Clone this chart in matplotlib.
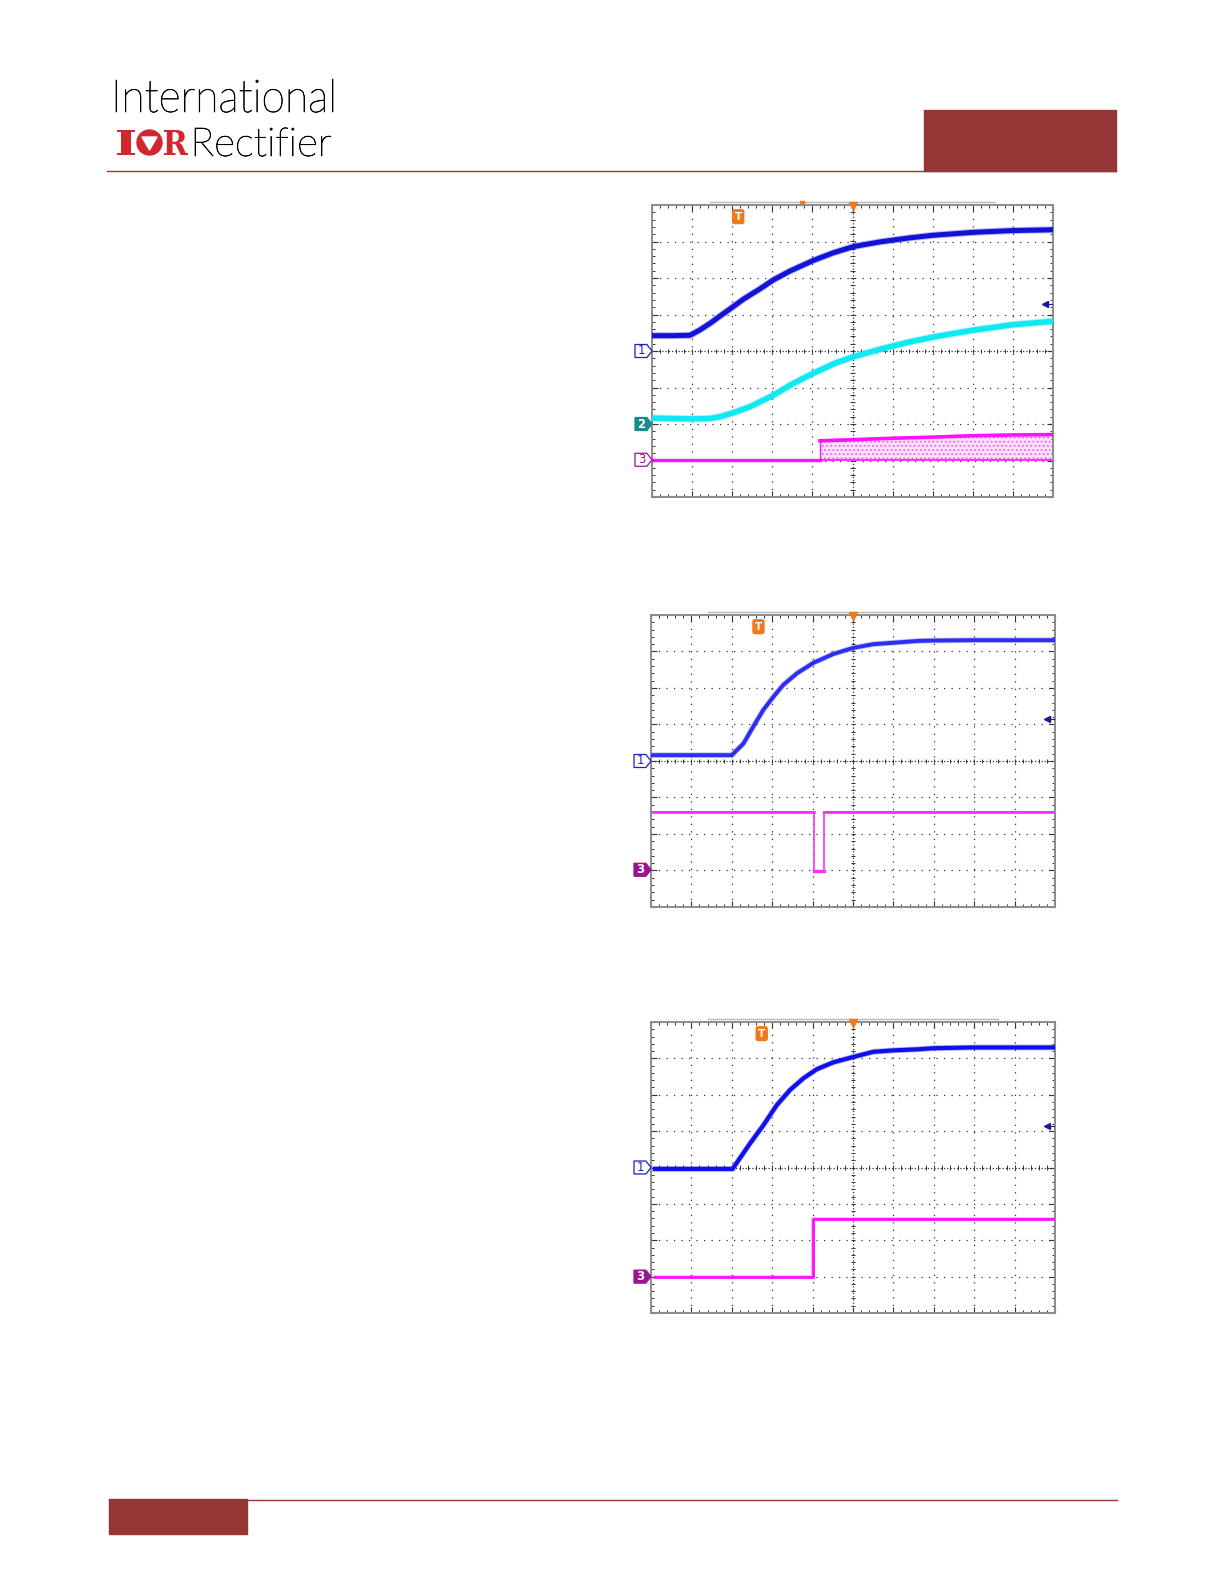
import matplotlib
matplotlib.use("Agg")
import matplotlib.pyplot as plt
import numpy as np
from matplotlib.patches import Rectangle, Circle, Polygon, PathPatch
from matplotlib.textpath import TextPath
from matplotlib.font_manager import FontProperties
from matplotlib.transforms import Affine2D

W, H = 1224, 1584
BRAND = '#943634'
LOGO_RED = '#d4262e'
ORANGE = '#f07a1a'

# ---- panel 1: ch1 (blue), ch2 (cyan), ch3 (magenta switching band)
p1_t_ch1 = [0.0, 0.5, 0.95, 1.2, 1.45, 1.7, 2.03, 2.28, 2.69, 3.03, 3.44, 4.02, 4.52,
            5.02, 5.69, 6.43, 7.0, 8.0, 9.0, 9.96]
p1_ch1 = [4.42, 4.42, 4.43, 4.58, 4.76, 4.96, 5.22, 5.42, 5.70, 5.95, 6.19, 6.48, 6.69,
          6.86, 6.99, 7.10, 7.17, 7.25, 7.30, 7.32]
p1_t_ch2 = [0.0, 0.5, 1.0, 1.45, 1.7, 2.03, 2.44, 3.03, 3.52, 4.02, 4.6, 5.02, 5.69,
            6.43, 7.0, 8.0, 9.0, 9.96]
p1_ch2 = [2.16, 2.15, 2.14, 2.15, 2.20, 2.31, 2.47, 2.79, 3.11, 3.39, 3.68, 3.84, 4.05,
          4.25, 4.38, 4.57, 4.72, 4.81]
p1_t_ch3 = [0.0, 4.19]
p1_ch3 = [1.02, 1.02]
p1_t_band = [4.19, 5.0, 6.0, 7.0, 8.0, 9.0, 9.96]
p1_band_low = [1.02, 1.02, 1.02, 1.02, 1.02, 1.02, 1.02]
p1_band_high = [1.54, 1.57, 1.61, 1.64, 1.68, 1.70, 1.71]

# ---- panel 2: ch1 rise, ch3 short low pulse
p2_t_ch1 = [0.0, 1.0, 2.0, 2.29, 2.53, 2.78, 3.03, 3.27, 3.61, 4.02, 4.51, 5.01, 5.5,
            6.0, 6.62, 7.0, 8.0, 9.96]
p2_ch1 = [4.16, 4.16, 4.16, 4.48, 4.94, 5.40, 5.76, 6.08, 6.40, 6.69, 6.93, 7.10, 7.20,
          7.24, 7.29, 7.30, 7.31, 7.31]
p2_t_ch3 = [0.0, 4.04, 4.04, 4.27, 4.27, 9.96]
p2_ch3 = [2.60, 2.60, 0.98, 0.98, 2.60, 2.60]

# ---- panel 3: ch1 rise, ch3 step up
p3_t_ch1 = [0.1, 1.0, 2.02, 2.08, 2.45, 2.78, 3.11, 3.44, 3.77, 4.10, 4.51, 5.01, 5.5,
            6.0, 6.62, 7.0, 8.0, 9.96]
p3_ch1 = [3.96, 3.96, 3.96, 4.06, 4.66, 5.16, 5.71, 6.13, 6.45, 6.70, 6.89, 7.04, 7.18,
          7.22, 7.25, 7.28, 7.30, 7.30]
p3_t_ch3 = [0.1, 4.0, 4.0, 9.96]
p3_ch3 = [0.98, 0.98, 2.59, 2.59]

# marker positions (divisions)
trig_x = [2.15, 2.66, 2.74]
ref_arrow_y = [5.29, 5.15, 5.14]

fig = plt.figure(figsize=(W / 100, H / 100), dpi=100)
page = fig.add_axes([0, 0, 1, 1], zorder=0)
page.set_xlim(0, W)
page.set_ylim(H, 0)
page.axis('off')


def fit_text(ax, s, x0, x1, baseline, cap, prop, color, stroke=0.0):
    path = TextPath((0, 0), s, size=100, prop=prop)
    ref = TextPath((0, 0), 'I', size=100, prop=prop).get_extents()
    bb = path.get_extents()
    sx = (x1 - x0) / bb.width
    sy = cap / ref.height
    tr = Affine2D().translate(-bb.x0, 0).scale(sx, -sy).translate(x0, baseline)
    ax.add_patch(PathPatch(tr.transform_path(path), facecolor=color,
                           edgecolor=color if stroke else 'none', lw=stroke))


# header
thin = FontProperties(family='Lato', weight='light')
fit_text(page, 'International', 116, 333, 112, 32, thin, '#000000', stroke=0.5)
fit_text(page, 'Rectifier', 195, 331, 156, 28, thin, '#000000', stroke=0.5)
logo = FontProperties(family='DejaVu Serif', weight='bold')
fit_text(page, 'I', 117, 135, 155, 25, logo, LOGO_RED)
fit_text(page, 'R', 164, 188, 155, 25, logo, LOGO_RED)
page.add_patch(Circle((149.5, 142.5), 12.5, color=LOGO_RED))
page.add_patch(Polygon([(142, 137), (157, 137), (149.5, 150)], color='white'))
page.plot([107, 1116], [170.5, 170.5], color=BRAND, lw=1.0)
page.add_patch(Rectangle((924, 110), 192, 61, color=BRAND))

# footer
page.plot([109, 1117], [1499.5, 1499.5], color=BRAND, lw=1.0)
page.add_patch(Rectangle((109, 1499), 138, 35, color=BRAND))


def scope_axes(box_px):
    x0, y0, x1, y1 = box_px
    ax = fig.add_axes([x0 / W, 1 - y1 / H, (x1 - x0) / W, (y1 - y0) / H], zorder=2)
    ax.set_xlim(0, 10)
    ax.set_ylim(0, 8)
    ax.set_facecolor('white')
    for sp in ax.spines.values():
        sp.set_color('#8c8c8c')
        sp.set_linewidth(1.4)
    ax.set_xticks(np.arange(0, 10.01, 1))
    ax.set_yticks(np.arange(0, 8.01, 1))
    ax.set_xticks(np.arange(0, 10.01, 0.2), minor=True)
    ax.set_yticks(np.arange(0, 8.01, 0.2), minor=True)
    ax.tick_params(which='both', direction='in', top=True, right=True,
                   labelbottom=False, labelleft=False, color='#333333')
    ax.tick_params(which='major', length=4, width=0.8)
    ax.tick_params(which='minor', length=2.5, width=0.7)
    # dotted graticule
    for gx in range(1, 10):
        ls = (0, (1, 5)) if gx != 5 else (0, (1, 1.6))
        ax.plot([gx, gx], [0, 8], color='#333333', lw=0.9, ls=ls, zorder=1)
    for gy in range(1, 8):
        ls = (0, (1, 5)) if gy != 4 else (0, (1, 1.6))
        ax.plot([0, 10], [gy, gy], color='#333333', lw=0.9, ls=ls, zorder=1)
    tx = np.arange(0.2, 10, 0.2)
    ty = np.arange(0.2, 8, 0.2)
    ax.vlines(tx, 3.94, 4.06, color='#333333', lw=0.7, zorder=1)
    ax.hlines(ty, 4.95, 5.05, color='#333333', lw=0.7, zorder=1)
    return ax


def trace(ax, x, y, color, lw, halo):
    # faint wider halo stands in for the scope's noise envelope
    ax.plot(x, y, color=color, lw=lw + halo, alpha=0.3, solid_joinstyle='round', zorder=3)
    ax.plot(x, y, color=color, lw=lw, solid_joinstyle='round', zorder=3)


def ch_marker(ax, y, label, color, filled, wpx, hpx):
    xw = 17 * 10 / wpx
    yh = 6.5 * 8 / hpx
    pts = [(-xw, y - yh), (-xw * 0.3, y - yh), (0, y), (-xw * 0.3, y + yh), (-xw, y + yh)]
    poly = Polygon(pts, closed=True, clip_on=False, lw=0.9,
                   facecolor=color if filled else 'white', edgecolor=color, zorder=5)
    ax.add_patch(poly)
    ax.text(-xw * 0.62, y, label, ha='center', va='center', fontsize=8.5,
            color='white' if filled else color, fontweight='bold' if filled else 'normal',
            clip_on=False, zorder=6)


def decorations(ax, tx, ay, gray_top):
    ax.text(tx, 7.68, 'T', ha='center', va='center', fontsize=7.5, color='white',
            fontweight='bold', zorder=6,
            bbox=dict(boxstyle='round,pad=0.18', fc=ORANGE, ec=ORANGE))
    ax.plot(5, 7.96, marker='v', color=ORANGE, ms=5.5, clip_on=False, zorder=6)
    ax.plot([9.8, 9.97], [ay, ay], color='#1a1a9a', lw=0.8, zorder=6)
    ax.plot(9.8, ay, marker='<', color='#1a1a9a', ms=4, zorder=6)
    ax.plot(gray_top, [8.07, 8.07], color='#b8b8b8', lw=1.0, clip_on=False)


# panel 1
box1 = (652, 205, 1053, 497)
ax1 = scope_axes(box1)
trace(ax1, p1_t_ch1, p1_ch1, '#1212d8', 3.6, 1.4)
trace(ax1, p1_t_ch2, p1_ch2, '#10e8f2', 4.0, 1.4)
plt.rcParams['hatch.linewidth'] = 0.8
ax1.fill_between(p1_t_band, p1_band_low, p1_band_high, facecolor='#fde0fa',
                 edgecolor='#f060f0', hatch='....', linewidth=0, zorder=2)
ax1.plot(p1_t_band, p1_band_high, color='#ff10ff', lw=2.6, zorder=3)
ax1.plot(p1_t_band, p1_band_low, color='#ff30ff', lw=1.4, zorder=3)
ax1.plot(p1_t_ch3, p1_ch3, color='#ff10ff', lw=2.4, zorder=3)
ax1.plot([4.19, 4.19], [1.02, 1.54], color='#ff10ff', lw=1.0, zorder=3)
ch_marker(ax1, 4.0, '1', '#2020c0', False, 401, 292)
ch_marker(ax1, 2.0, '2', '#178c8c', True, 401, 292)
ch_marker(ax1, 1.02, '3', '#a010a0', False, 401, 292)
decorations(ax1, trig_x[0], ref_arrow_y[0], [1.45, 8.56])
ax1.plot(3.75, 8.06, marker='s', color=ORANGE, ms=2.5, clip_on=False)

# panel 2
box2 = (651, 615, 1055, 907)
ax2 = scope_axes(box2)
trace(ax2, p2_t_ch1, p2_ch1, '#2e2ef0', 2.8, 1.2)
ax2.plot(p2_t_ch3, p2_ch3, color='#ff30ff', lw=1.2, zorder=3)
ax2.plot(p2_t_ch3[:2], p2_ch3[:2], color='#ff30ff', lw=2.0, zorder=3)
ax2.plot(p2_t_ch3[-2:], p2_ch3[-2:], color='#ff30ff', lw=2.0, zorder=3)
ax2.plot(p2_t_ch3[2:4], p2_ch3[2:4], color='#ff30ff', lw=2.4, zorder=3)
ch_marker(ax2, 4.0, '1', '#2020c0', False, 404, 292)
ch_marker(ax2, 1.02, '3', '#9a1490', True, 404, 292)
decorations(ax2, trig_x[1], ref_arrow_y[1], [1.42, 8.6])

# panel 3
box3 = (651, 1022, 1055, 1313)
ax3 = scope_axes(box3)
trace(ax3, p3_t_ch1, p3_ch1, '#1010e8', 3.0, 1.2)
trace(ax3, p3_t_ch3, p3_ch3, '#ff10ff', 2.0, 0.8)
ax3.plot(p3_t_ch3[1:3], p3_ch3[1:3], color='#ff10ff', lw=1.0, zorder=3)
ch_marker(ax3, 4.0, '1', '#2020c0', False, 404, 291)
ch_marker(ax3, 1.0, '3', '#9a1490', True, 404, 291)
decorations(ax3, trig_x[2], ref_arrow_y[2], [1.42, 8.6])

fig.savefig('out.png', dpi=100)
